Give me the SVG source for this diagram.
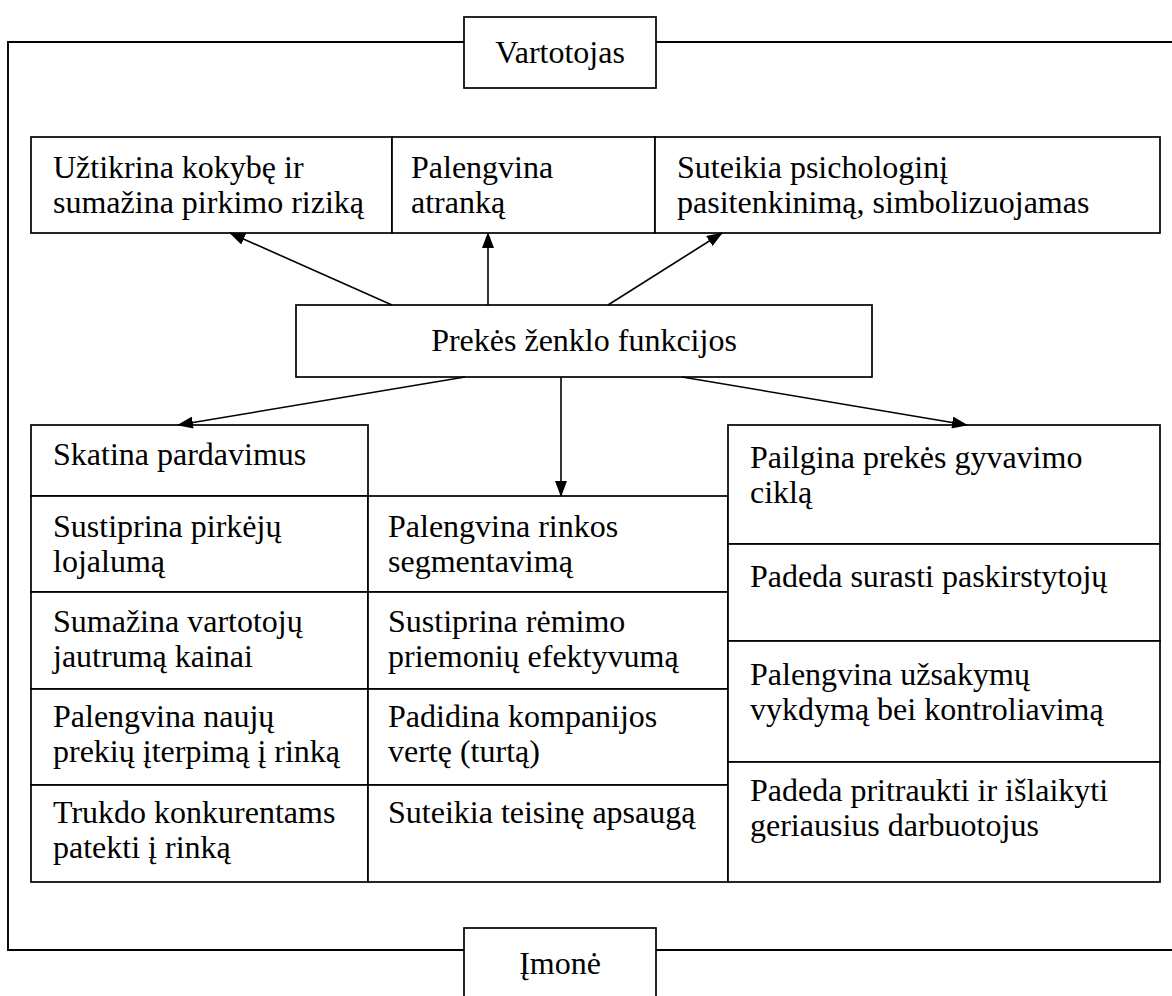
<svg xmlns="http://www.w3.org/2000/svg" width="1172" height="996" viewBox="0 0 1172 996">
  <style>
    .box { fill: #ffffff; stroke: #000000; stroke-width: 1.7; }
    .frame { fill: none; stroke: #000000; stroke-width: 1.9; }
    .t { font-family: "Liberation Serif", "Times New Roman", serif; font-size: 32px; fill: #000000; }
    .mid { text-anchor: middle; }
    .conn { stroke: #000000; stroke-width: 1.6; fill: none; marker-end: url(#ah); }
  </style>
  <defs>
    <marker id="ah" markerUnits="userSpaceOnUse" markerWidth="16" markerHeight="12" refX="15" refY="6" orient="auto">
      <path d="M0,0 L16,6 L0,12 z" fill="#000000"/>
    </marker>
  </defs>
  <rect x="0" y="0" width="1172" height="996" fill="#ffffff"/>

  <!-- outer frame linking the two sides -->
  <g id="frame">
    <path class="frame" d="M464,42 H8 V950 H464"/>
    <path class="frame" d="M656,42 H1172"/>
    <path class="frame" d="M656,950 H1172"/>
  </g>

  <g id="vartotojas">
    <rect class="box" x="464" y="17" width="192" height="71"/>
    <text class="t mid" x="560" y="63">Vartotojas</text>
  </g>

  <g id="imone">
    <rect class="box" x="464" y="928" width="192" height="80"/>
    <text class="t mid" x="560" y="974">Įmonė</text>
  </g>

  <!-- consumer-side functions -->
  <g id="kokybe">
    <rect class="box" x="31" y="137" width="361" height="96"/>
    <text class="t"><tspan x="53" y="178">Užtikrina kokybę ir</tspan><tspan x="53" y="213">sumažina pirkimo riziką</tspan></text>
  </g>
  <g id="atranka">
    <rect class="box" x="392" y="137" width="263" height="96"/>
    <text class="t"><tspan x="411" y="178">Palengvina</tspan><tspan x="411" y="213">atranką</tspan></text>
  </g>
  <g id="psichologinis">
    <rect class="box" x="655" y="137" width="505" height="96"/>
    <text class="t"><tspan x="677" y="178">Suteikia psichologinį</tspan><tspan x="677" y="213">pasitenkinimą, simbolizuojamas</tspan></text>
  </g>

  <!-- central node -->
  <g id="funkcijos">
    <rect class="box" x="296" y="305" width="576" height="72"/>
    <text class="t mid" x="584" y="351">Prekės ženklo funkcijos</text>
  </g>

  <!-- left column -->
  <g id="skatina">
    <rect class="box" x="31" y="425" width="337" height="71"/>
    <text class="t" x="53" y="465">Skatina pardavimus</text>
  </g>
  <g id="lojalumas">
    <rect class="box" x="31" y="496" width="337" height="96"/>
    <text class="t"><tspan x="53" y="537">Sustiprina pirkėjų</tspan><tspan x="53" y="572">lojalumą</tspan></text>
  </g>
  <g id="jautrumas">
    <rect class="box" x="31" y="592" width="337" height="97"/>
    <text class="t"><tspan x="53" y="632">Sumažina vartotojų</tspan><tspan x="53" y="667">jautrumą kainai</tspan></text>
  </g>
  <g id="naujos-prekes">
    <rect class="box" x="31" y="689" width="337" height="96"/>
    <text class="t"><tspan x="53" y="727">Palengvina naujų</tspan><tspan x="53" y="762">prekių įterpimą į rinką</tspan></text>
  </g>
  <g id="konkurentai">
    <rect class="box" x="31" y="785" width="337" height="97"/>
    <text class="t"><tspan x="53" y="823">Trukdo konkurentams</tspan><tspan x="53" y="858">patekti į rinką</tspan></text>
  </g>

  <!-- middle column -->
  <g id="segmentavimas">
    <rect class="box" x="368" y="496" width="360" height="96"/>
    <text class="t"><tspan x="388" y="537">Palengvina rinkos</tspan><tspan x="388" y="572">segmentavimą</tspan></text>
  </g>
  <g id="remimas">
    <rect class="box" x="368" y="592" width="360" height="97"/>
    <text class="t"><tspan x="388" y="632">Sustiprina rėmimo</tspan><tspan x="388" y="667">priemonių efektyvumą</tspan></text>
  </g>
  <g id="verte">
    <rect class="box" x="368" y="689" width="360" height="96"/>
    <text class="t"><tspan x="388" y="727">Padidina kompanijos</tspan><tspan x="388" y="762">vertę (turtą)</tspan></text>
  </g>
  <g id="apsauga">
    <rect class="box" x="368" y="785" width="360" height="97"/>
    <text class="t" x="388" y="823">Suteikia teisinę apsaugą</text>
  </g>

  <!-- right column -->
  <g id="gyvavimas">
    <rect class="box" x="728" y="425" width="432" height="119"/>
    <text class="t"><tspan x="750" y="468">Pailgina prekės gyvavimo</tspan><tspan x="750" y="503">ciklą</tspan></text>
  </g>
  <g id="paskirstytojas">
    <rect class="box" x="728" y="544" width="432" height="97"/>
    <text class="t" x="750" y="587">Padeda surasti paskirstytojų</text>
  </g>
  <g id="uzsakymai">
    <rect class="box" x="728" y="641" width="432" height="121"/>
    <text class="t"><tspan x="750" y="685">Palengvina užsakymų</tspan><tspan x="750" y="720">vykdymą bei kontroliavimą</tspan></text>
  </g>
  <g id="darbuotojai">
    <rect class="box" x="728" y="762" width="432" height="120"/>
    <text class="t"><tspan x="750" y="801">Padeda pritraukti ir išlaikyti</tspan><tspan x="750" y="836">geriausius darbuotojus</tspan></text>
  </g>

  <!-- arrows from the central node -->
  <g id="connectors">
    <line class="conn" x1="392" y1="305" x2="230" y2="233"/>
    <line class="conn" x1="488" y1="305" x2="488" y2="233"/>
    <line class="conn" x1="608" y1="305" x2="722" y2="233"/>
    <line class="conn" x1="465" y1="377" x2="178" y2="425"/>
    <line class="conn" x1="561" y1="377" x2="561" y2="496"/>
    <line class="conn" x1="682" y1="377" x2="967" y2="425"/>
  </g>
</svg>
